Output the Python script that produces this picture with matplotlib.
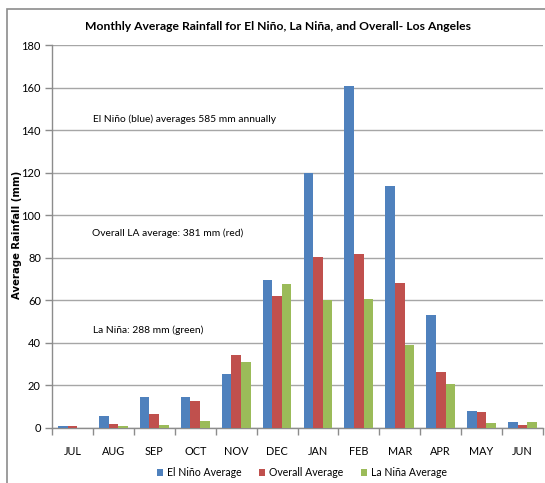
import matplotlib
matplotlib.use("Agg")
import matplotlib.pyplot as plt
import numpy as np
from matplotlib.patches import Rectangle

months = ["JUL", "AUG", "SEP", "OCT", "NOV", "DEC", "JAN", "FEB", "MAR", "APR", "MAY", "JUN"]
el_nino = [0.8, 5.5, 14.4, 14.4, 25.2, 69.6, 120.0, 160.5, 113.8, 53.2, 8.1, 3.0]
overall = [0.8, 1.7, 6.4, 12.5, 34.1, 62.0, 80.3, 81.8, 68.2, 26.4, 7.7, 1.6]
la_nina = [0.0, 0.8, 1.2, 3.1, 30.8, 67.7, 60.0, 60.6, 38.9, 20.8, 2.5, 3.0]
series_names = ["El Niño Average", "Overall Average", "La Niña Average"]
colors = ["#4F81BD", "#C0504D", "#9BBB59"]
yticks = [0, 20, 40, 60, 80, 100, 120, 140, 160, 180]

plt.rcParams['font.family'] = ['Lato', 'DejaVu Sans']

W, H = 545, 483
fig = plt.figure(figsize=(W / 100, H / 100), dpi=100)
ax = fig.add_axes([52 / W, 1 - 428 / H, (543 - 52) / W, (428 - 45) / H])

# outer chart frame
fig.patches.append(Rectangle((7 / W, -0.05), 1.1, (H - 9) / H + 0.05, transform=fig.transFigure,
                             fill=False, edgecolor="#8c8c8c", linewidth=1.2))

x = np.arange(len(months))
bw = 0.235
for i, (vals, name, c) in enumerate(zip([el_nino, overall, la_nina], series_names, colors)):
    ax.bar(x + (i - 1) * bw, vals, width=bw, color=c, label=name, zorder=3)

ax.set_xlim(-0.5, len(months) - 0.5)
ax.set_ylim(0, 180)
ax.set_yticks(yticks)
ax.set_yticklabels([str(v) for v in yticks], fontsize=8)
ax.yaxis.grid(True, color="#a6a6a6", linewidth=1.0, zorder=0)
ax.set_axisbelow(True)

ax.set_xticks(x)
ax.set_xticklabels(months, fontsize=7.8)
ax.tick_params(axis='x', which='major', length=0, pad=13)
ax.set_xticks(np.arange(-0.5, len(months) + 0.5, 1), minor=True)
ax.tick_params(axis='x', which='minor', length=5, color="#8c8c8c", width=1)
ax.tick_params(axis='y', length=5, color="#8c8c8c", width=1, pad=3)

for s in ["top", "right"]:
    ax.spines[s].set_visible(False)
for s in ["left", "bottom"]:
    ax.spines[s].set_color("#8c8c8c")
    ax.spines[s].set_linewidth(1.0)

fig.text(17 / W, 1 - 235 / H, "Average Rainfall (mm)", rotation=90, ha="center", va="center",
         fontsize=7.3, fontweight="bold", family=['DejaVu Sans'])

fig.text(278 / W, 1 - 27 / H, "Monthly Average Rainfall for El Niño, La Niña, and Overall- Los Angeles",
         ha="center", va="center", fontsize=8.7, fontweight="bold")

fig.text(93 / W, 1 - 119 / H, "El Niño (blue) averages 585 mm annually", fontsize=7.4, va="center")
fig.text(92 / W, 1 - 233 / H, "Overall LA average: 381 mm (red)", fontsize=7.4, va="center")
fig.text(93 / W, 1 - 330 / H, "La Niña: 288 mm (green)", fontsize=7.4, va="center")

fig.legend(loc="center", bbox_to_anchor=(302 / W, 1 - 473 / H), ncol=3, frameon=False,
           fontsize=7.6, handlelength=0.6, handleheight=0.6, handletextpad=0.4, columnspacing=1.6)

fig.savefig("out.png", dpi=100)
